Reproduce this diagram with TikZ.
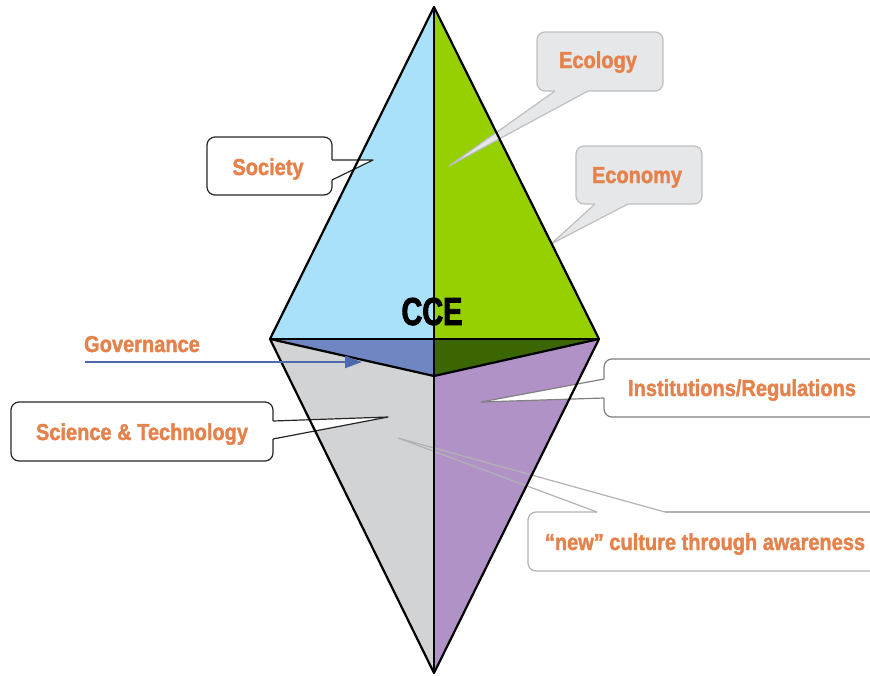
\documentclass[tikz,border=0pt]{standalone}
\usepackage{fontspec}
\usepackage{tikz}
\usetikzlibrary{arrows.meta}
\newfontfamily\calloutfont[FakeStretch=0.87,FakeBold=1.6]{Liberation Sans Bold}
\newfontfamily\ccefont[FakeStretch=0.74,FakeBold=2.2]{Liberation Sans Bold}
\definecolor{skyblue}{HTML}{AAE1FA}
\definecolor{leafgreen}{HTML}{96D000}
\definecolor{govblue}{HTML}{6F86C2}
\definecolor{darkleaf}{HTML}{3C6601}
\definecolor{stonegrey}{HTML}{D1D3D5}
\definecolor{lilac}{HTML}{B192C6}
\definecolor{labelorange}{HTML}{E5824B}
\definecolor{bubblegrey}{HTML}{E6E7E8}
\definecolor{bubbleline}{HTML}{BCBEC0}
\definecolor{arrowblue}{HTML}{4E69AE}
\newcommand{\callout}[6]{
	\filldraw[fill=#1,draw=#2,line width=1.2pt,rounded corners=8pt] #3;
	\draw[#1,line width=1.8pt] #4 -- #6;
	\fill[#1] #4 -- #5 -- #6 -- cycle;
	\draw[#2,line width=1.2pt,line join=round] #4 -- #5 -- #6;
}
\tikzset{
	edge/.style={black,line width=2.2pt,line join=round},
	bubbletext/.style={text=labelorange,anchor=base,inner sep=0pt,
		font=\calloutfont\fontsize{23}{25}\selectfont}
}
\begin{document}
\begin{tikzpicture}[x=1pt,y=-1pt]
	\useasboundingbox (0,0) rectangle (870,675);

	\coordinate (top) at (434,7);
	\coordinate (left) at (270,339);
	\coordinate (right) at (599,339);
	\coordinate (bottom) at (434,673);
	\coordinate (mid) at (434,339);
	\coordinate (back) at (434,376);

	\fill[skyblue] (top) -- (left) -- (mid) -- cycle;
	\fill[leafgreen] (top) -- (mid) -- (right) -- cycle;
	\fill[govblue] (left) -- (mid) -- (back) -- cycle;
	\fill[darkleaf] (mid) -- (right) -- (back) -- cycle;
	\fill[stonegrey] (left) -- (back) -- (bottom) -- cycle;
	\fill[lilac] (back) -- (right) -- (bottom) -- cycle;

	\begin{scope}
		\callout{white}{black!85}{(207,137) rectangle (332,195)}{(332,160)}{(373,160)}{(332,180)}
		\callout{bubblegrey}{bubbleline}{(537,32) rectangle (663,91)}{(555,91)}{(449,166)}{(588,91)}
		\callout{bubblegrey}{bubbleline}{(576,146) rectangle (702,204)}{(595,204)}{(551,244)}{(628,204)}
		\callout{white}{black!85}{(11,402) rectangle (273,461)}{(273,421)}{(388,417)}{(273,439)}
		\callout{white}{black!50}{(871,359) -- (604,359) -- (604,417) -- (871,417)}{(604,379)}{(481,402)}{(604,398)}
	\end{scope}

	\begin{scope}[black!30,line width=1.2pt]
		\fill[white,rounded corners=8pt] (871,512) -- (528,512) -- (528,571) -- (871,571);
		\draw[rounded corners=8pt] (597,512) -- (528,512) -- (528,571) -- (871,571);
		\draw (871,512) -- (665,512);
		\draw[line join=round] (597,512) -- (398,438) -- (665,512);
	\end{scope}

	\draw[edge] (top) -- (left) -- (bottom) -- (right) -- cycle;
	\draw[edge] (left) -- (right);
	\draw[edge] (left) -- (back) -- (right);
	\draw[edge] (top) -- (bottom);

	\coordinate (govstart) at (85,362);
	\coordinate (govend) at (362,362);
	\draw[arrowblue,line width=2.2pt,-{Triangle[length=17pt,width=12pt]}] (govstart) -- (govend);

	\node[bubbletext] (society) at (268,175) {Society};
	\node[bubbletext] (ecology) at (598,68) {Ecology};
	\node[bubbletext] (economy) at (637,183) {Economy};
	\node[bubbletext] (governance) at (142,352) {Governance};
	\node[bubbletext] (science) at (142,440) {Science \& Technology};
	\node[bubbletext] (institutions) at (742,396) {Institutions/Regulations};
	\node[bubbletext] (culture) at (705,550) {“new” culture through awareness};
	\node[anchor=base,inner sep=0pt,font=\ccefont\fontsize{39}{40}\selectfont] (cce) at (432,325) {CCE};
\end{tikzpicture}
\end{document}
